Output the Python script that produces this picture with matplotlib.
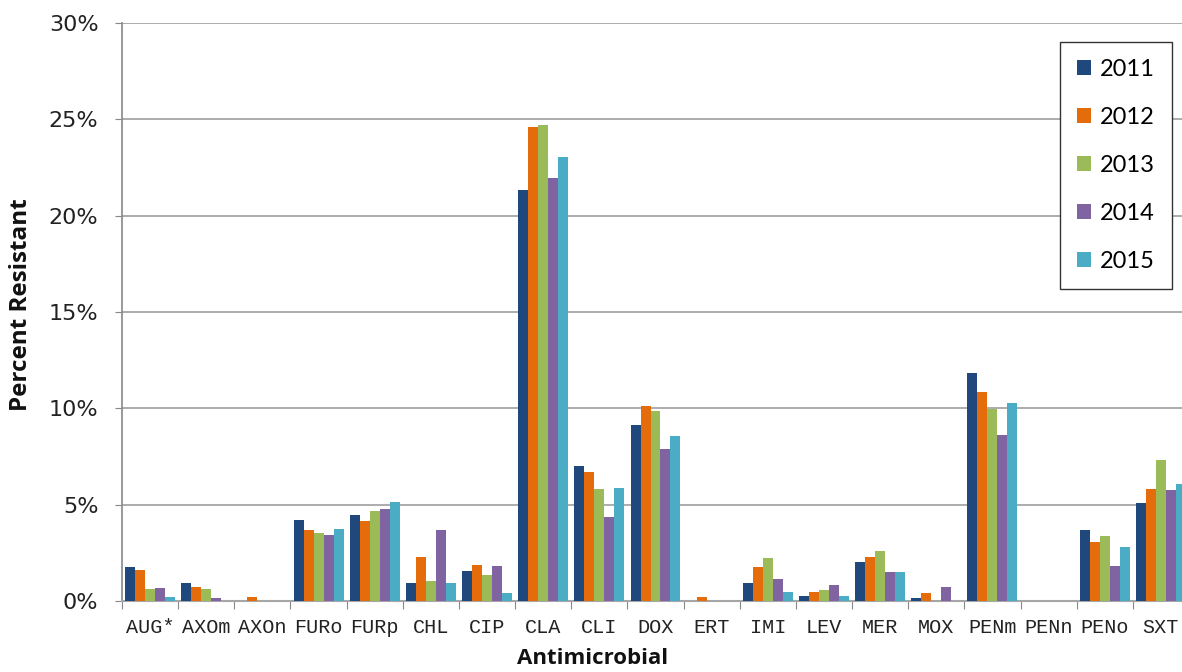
import matplotlib.pyplot as plt
import numpy as np

# データ
drugs = ["AUG*", "AXOm", "AXOn", "FURo", "FURp", "CHL", "CIP", "CLA", "CLI", "DOX",
         "ERT", "IMI", "LEV", "MER", "MOX", "PENm", "PENn", "PENo", "SXT"]
years = ["2011", "2012", "2013", "2014", "2015"]

r2011 = [1.76, 0.95, 0.00, 4.22, 4.48, 0.95, 1.56, 21.33, 7.01, 9.15,
         0.00, 0.95, 0.28, 2.02, 0.14, 11.85, 0.00, 3.69, 5.09]
r2012 = [1.63, 0.75, 0.23, 3.69, 4.15, 2.30, 1.89, 24.58, 6.68, 10.14,
         0.23, 1.75, 0.49, 2.30, 0.42, 10.87, 0.00, 3.08, 5.83]
r2013 = [0.62, 0.62, 0.00, 3.55, 4.69, 1.02, 1.37, 24.72, 5.81, 9.86,
         0.00, 2.22, 0.55, 2.61, 0.00, 9.95, 0.00, 3.36, 7.34]
r2014 = [0.69, 0.16, 0.00, 3.41, 4.76, 3.70, 1.84, 21.97, 4.34, 7.87,
         0.00, 1.16, 0.83, 1.49, 0.75, 8.62, 0.00, 1.84, 5.74]
r2015 = [0.23, 0.00, 0.00, 3.76, 5.16, 0.95, 0.44, 23.04, 5.88, 8.55,
         0.00, 0.49, 0.28, 1.49, 0.00, 10.28, 0.00, 2.82, 6.07]

series = [r2011, r2012, r2013, r2014, r2015]
colors = ["#1F497D", "#E46C0A", "#9BBB59", "#8064A2", "#4BACC6"]

fig = plt.figure(figsize=(11.82, 6.72), dpi=100)
# 右端は画像外まではみ出している
ax = fig.add_axes([122 / 1182, 71 / 672, 1067 / 1182, 578 / 672])

x = np.arange(len(drugs))
group = 0.89
w = group / len(series)
for j, (vals, c, yr) in enumerate(zip(series, colors, years)):
    pos = x - group / 2 + w * (j + 0.5)
    ax.bar(pos, np.array(vals) / 100, width=w, color=c, label=yr, zorder=3)

ax.set_xlim(-0.5, len(drugs) - 0.5)
ax.set_ylim(0, 0.30)
ax.set_yticks(np.arange(0, 0.301, 0.05))
ax.set_yticklabels([f"{v*100:.0f}%" for v in np.arange(0, 0.301, 0.05)],
                   fontsize=16, color="#222222")
ax.yaxis.grid(True, color="#A6A6A6", linewidth=1.3, zorder=0)
ax.tick_params(axis="y", length=5, color="#888888", pad=12)

ax.set_xticks(np.arange(-0.5, len(drugs), 1))
ax.set_xticklabels([])
ax.set_xticks(x, minor=True)
ax.set_xticklabels(drugs, minor=True, family="Liberation Mono", fontsize=14.5, color="#222222")
ax.tick_params(axis="x", which="major", length=6, color="#888888")
ax.tick_params(axis="x", which="minor", length=0, pad=12)

for s in ["top", "right"]:
    ax.spines[s].set_visible(False)
ax.spines["left"].set_color("#888888")
ax.spines["bottom"].set_color("#A6A6A6")
ax.spines["left"].set_linewidth(1.2)
ax.spines["bottom"].set_linewidth(1.5)

fig.text(21 / 1182, 1 - 305 / 672, "Percent Resistant", rotation=90, ha="center", va="center",
         fontsize=17.5, fontweight="bold", family="Open Sans", color="#111111")
fig.text(593 / 1182, 1 - 658 / 672, "Antimicrobial", ha="center", va="center",
         fontsize=16, fontweight="bold", family="Open Sans", color="#111111")

leg = ax.legend(loc="upper left", bbox_to_anchor=(1060 / 1182, 1 - 42 / 672),
                bbox_transform=fig.transFigure, borderaxespad=0,
                prop={"family": "Lato", "size": 17}, fancybox=False, framealpha=1,
                edgecolor="#333333", handlelength=0.6, handleheight=0.6,
                handletextpad=0.4, labelspacing=1.15, borderpad=0.7)
leg.get_frame().set_linewidth(1.0)

fig.savefig("out.png", dpi=100)
